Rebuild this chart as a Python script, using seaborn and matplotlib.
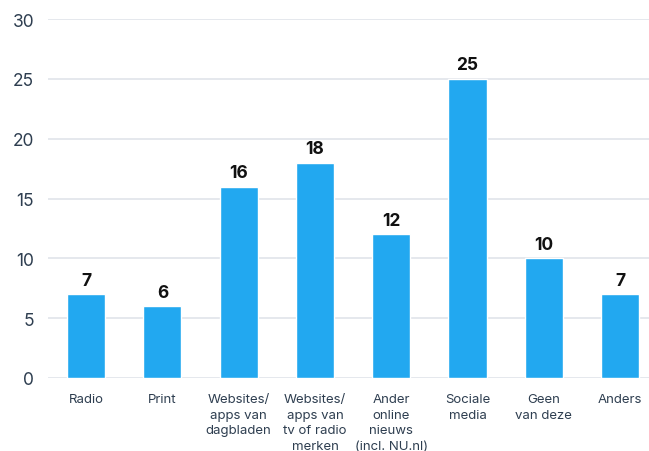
import seaborn as sns
import matplotlib.pyplot as plt
import pandas as pd

# Data
categories = [
    "Radio", "Print", "Websites/\napps van\ndagbladen",
    "Websites/\napps van\ntv of radio\nmerken",
    "Ander\nonline\nnieuws\n(incl. NU.nl)",
    "Sociale\nmedia", "Geen\nvan deze", "Anders",
]
values = [7, 6, 16, 18, 12, 25, 10, 7]

df = pd.DataFrame({"Categorie": categories, "Waarde": values})

sns.set_style("white")
plt.rcParams["font.family"] = ["Inter", "DejaVu Sans"]

fig = plt.figure(figsize=(6.49, 4.52), dpi=100)
ax = fig.add_axes([48 / 649, 1 - 379 / 452, 1 - 48 / 649, (379 - 20) / 452])

sns.barplot(x="Categorie", y="Waarde", data=df, color="#22A8F0",
            saturation=1, width=0.5, ax=ax, zorder=3)

ax.set_ylim(0, 30)
ax.set_xlim(-0.5, 7.38)
ax.set_yticks(range(0, 31, 5))
ax.yaxis.grid(True, color="#E3E6EC", linewidth=1.3, zorder=0)
ax.set_axisbelow(True)
for s in ax.spines.values():
    s.set_visible(False)

ax.tick_params(axis="y", length=0, pad=10, labelsize=12.5, labelcolor="#2E3E50")
ax.tick_params(axis="x", length=0, pad=11, labelsize=9.5, labelcolor="#2E3E50")
for lbl in ax.get_xticklabels():
    lbl.set_linespacing(1.4)

ax.bar_label(ax.containers[0], padding=4, fontsize=12.5, fontweight="bold",
             color="#111111")

ax.set_xlabel("")
ax.set_ylabel("")

fig.savefig("out.png", dpi=100)
